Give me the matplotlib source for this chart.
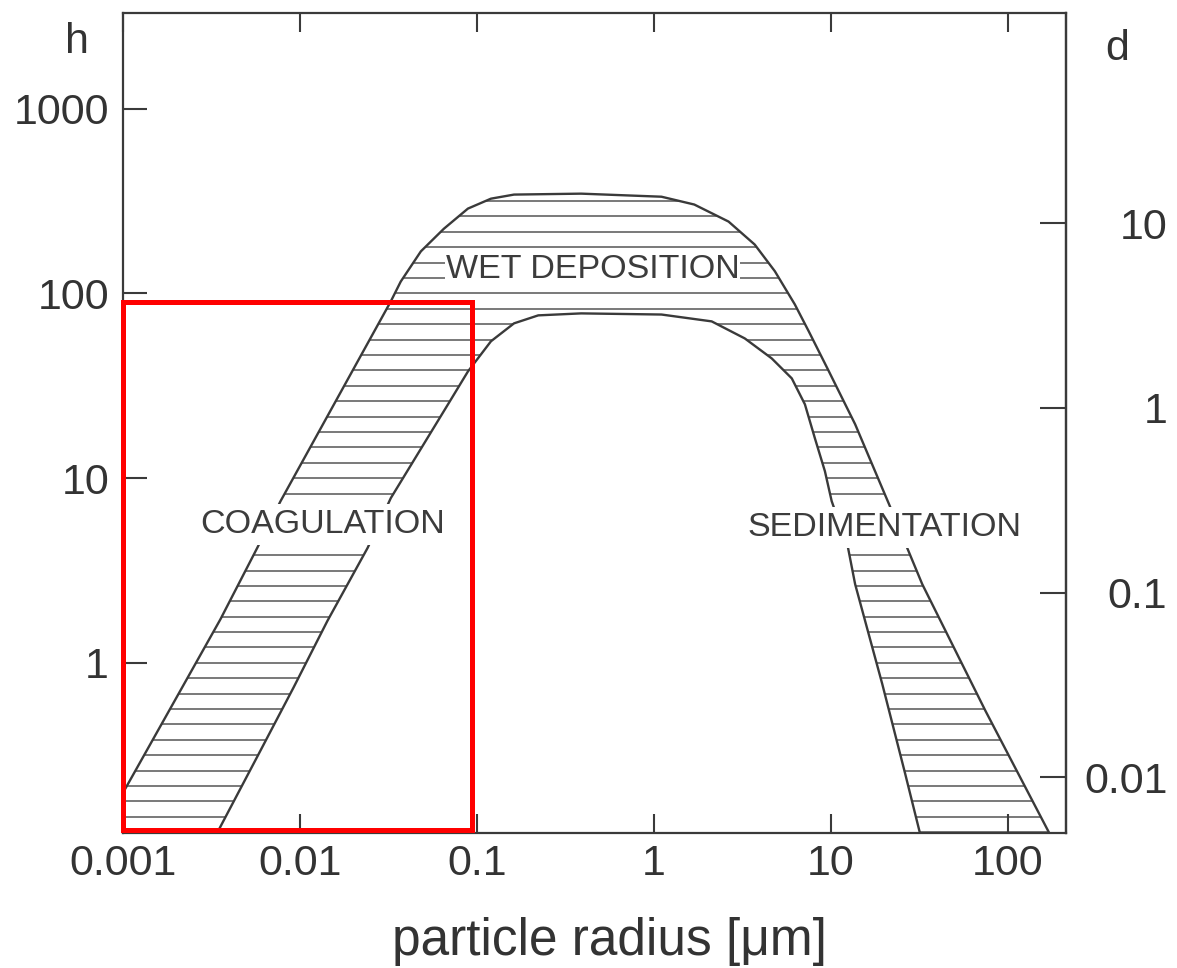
import numpy as np
import matplotlib
matplotlib.use("Agg")
import matplotlib.pyplot as plt
from matplotlib.patches import Polygon, Rectangle
from matplotlib.ticker import NullLocator, FixedLocator, FixedFormatter

# ---------------- data ----------------
# upper / outer boundary of the hatched band (particle radius in um, time in h)
outer_r = [0.001, 0.00355, 0.00574, 0.00776, 0.0326,
           0.0371, 0.0482, 0.0650, 0.0889, 0.120, 0.162, 0.388, 1.103,
           1.69, 2.64, 3.71, 4.82, 6.25, 7.50, 9.75, 13.7, 21.3, 32.8,
           74.6, 172.0]
outer_h = [0.198, 1.72, 4.2, 7.5, 90.6,
           116.0, 169.0, 224.0, 288.0, 326.0, 343.0, 347.0, 334.0,
           303.0, 245.0, 184.0, 132.0, 87.3, 62.3, 37.8, 19.6, 7.23, 2.67,
           0.551, 0.119]

# lower / inner boundary of the hatched band
inner_r = [0.00341, 0.00597, 0.00918, 0.0143, 0.0241, 0.0326, 0.0686,
           0.0889, 0.120, 0.162, 0.222, 0.388, 1.103, 2.12, 3.26, 4.63,
           6.01, 7.13, 8.11, 9.25, 10.1, 12.5, 13.7, 19.5, 26.2, 31.9]
inner_h = [0.1205, 0.334, 0.733, 1.69, 4.19, 7.80, 25.1,
           37.8, 55.1, 68.9, 76.1, 78.0, 76.9, 70.6, 57.1, 44.5,
           34.7, 25.1, 16.5, 10.9, 7.51, 4.19, 2.67, 0.769, 0.254, 0.119]

x_ticks = [0.001, 0.01, 0.1, 1, 10, 100]
x_tick_labels = ["0.001", "0.01", "0.1", "1", "10", "100"]
h_ticks = [1, 10, 100, 1000]
h_tick_labels = ["1", "10", "100", "1000"]
d_ticks = [0.01, 0.1, 1, 10]
d_tick_labels = ["0.01", "0.1", "1", "10"]
hours_per_day = 24.0

region_labels = ["COAGULATION", "WET DEPOSITION", "SEDIMENTATION"]
region_r = [0.0134, 0.449, 19.95]
region_h = [5.64, 135.0, 5.43]

highlight_r = (0.001, 0.094)
highlight_h = (0.125, 90.0)

# ---------------- figure ----------------
plt.rcParams['font.family'] = ['Liberation Sans', 'DejaVu Sans']
ink = '#3a3a3a'

fig = plt.figure(figsize=(11.77, 9.68), dpi=100)
ax = fig.add_axes([0.1045, 0.1395, 0.8012, 0.8471])
ax.set_xscale('log')
ax.set_yscale('log')
ax.set_xlim(0.001, 213)
ax.set_ylim(0.12, 3300)

# band polygon (closed below the axis bottom)
poly_pts = (list(zip(outer_r, outer_h)) +
            [(outer_r[-1] * 1.2, 0.05), (inner_r[-1] * 1.05, 0.05)] +
            list(zip(inner_r[::-1], inner_h[::-1])) +
            [(inner_r[0] * 0.9, 0.05), (0.0005, 0.05), (0.0005, outer_h[0] * 0.4)])
band = Polygon(poly_pts, closed=True, facecolor='none', edgecolor='none')
ax.add_patch(band)

# horizontal hatching, 12 lines per decade
levels = 10 ** (np.arange(-14, 45) / 12.0)
hl = ax.hlines(levels, 0.0005, 500, colors='#555555', linewidth=1.1, zorder=1)
hl.set_clip_path(band)

ax.plot(outer_r, outer_h, color=ink, lw=1.7, zorder=2, solid_joinstyle='round')
ax.plot(inner_r, inner_h, color=ink, lw=1.7, zorder=2, solid_joinstyle='round')

# region labels with white backing
pads = [0.15, 0.02, 0.15]
for txt, r, h, p in zip(region_labels, region_r, region_h, pads):
    ax.text(r, h, txt, ha='center', va='center', fontsize=24.5, color='#3c3c3c',
            zorder=5,
            bbox=dict(boxstyle='square,pad=%g' % p, facecolor='white',
                      edgecolor='none'))

# red highlight rectangle
ax.add_patch(Rectangle((highlight_r[0], highlight_h[0]),
                       highlight_r[1] - highlight_r[0],
                       highlight_h[1] - highlight_h[0],
                       fill=False, edgecolor='#ff0000', lw=3.6,
                       zorder=6, clip_on=False))

# axes styling
for s in ax.spines.values():
    s.set_color(ink)
    s.set_linewidth(1.6)

ax.xaxis.set_major_locator(FixedLocator(x_ticks))
ax.xaxis.set_major_formatter(FixedFormatter(x_tick_labels))
ax.xaxis.set_minor_locator(NullLocator())
ax.yaxis.set_major_locator(FixedLocator(h_ticks))
ax.yaxis.set_major_formatter(FixedFormatter(h_tick_labels))
ax.yaxis.set_minor_locator(NullLocator())

ax.tick_params(axis='x', which='major', direction='in', top=True, bottom=True,
               length=14, width=1.5, color=ink, labelsize=31,
               labelcolor='#333333', pad=8)
ax.tick_params(axis='y', which='major', direction='in', left=True, right=False,
               length=17, width=1.5, color=ink, labelsize=31,
               labelcolor='#333333', pad=10)

sec = ax.secondary_yaxis('right', functions=(lambda h: h / hours_per_day,
                                             lambda d: d * hours_per_day))
sec.yaxis.set_major_locator(FixedLocator(d_ticks))
sec.yaxis.set_major_formatter(FixedFormatter(d_tick_labels))
sec.yaxis.set_minor_locator(NullLocator())
sec.spines['right'].set_color(ink)
sec.spines['right'].set_linewidth(1.6)
sec.tick_params(axis='y', which='major', direction='in', length=19, width=1.5,
                color=ink, labelsize=31, labelcolor='#333333', pad=73)
for lab in sec.yaxis.get_ticklabels():
    lab.set_horizontalalignment('right')

ax.set_xlabel('particle radius [\u03bcm]', fontsize=37, color='#333333')
ax.xaxis.set_label_coords(0.516, -0.102)

fig.text(77 / 1177, 1 - 53 / 968, 'h', fontsize=31, color='#333333',
         ha='center', va='baseline')
fig.text(1117 / 1177, 1 - 60 / 968, 'd', fontsize=31, color='#333333',
         ha='center', va='baseline')

fig.savefig('out.png', dpi=100, facecolor='white')
